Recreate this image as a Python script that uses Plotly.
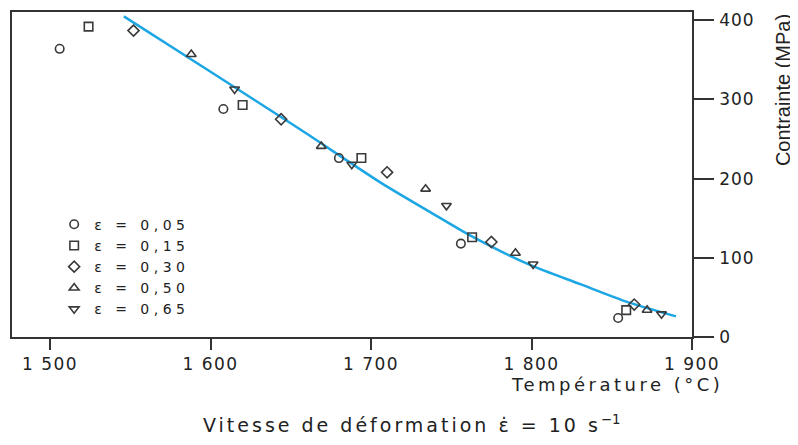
import plotly.graph_objects as go

# Data
labels = ["ε = 0,05", "ε = 0,15", "ε = 0,30", "ε = 0,50", "ε = 0,65"]
symbols = ["circle-open", "square-open", "diamond-open", "triangle-up-open", "triangle-down-open"]

temp_005 = [1506, 1608, 1680, 1756, 1854]
stress_005 = [364, 288, 226, 118, 24]
temp_015 = [1524, 1620, 1694, 1763, 1859]
stress_015 = [392, 293, 226, 126, 34]
temp_030 = [1552, 1644, 1710, 1775, 1864]
stress_030 = [387, 275, 208, 120, 41]
temp_050 = [1588, 1669, 1734, 1790, 1872]
stress_050 = [357, 241, 187, 106, 34]
temp_065 = [1615, 1688, 1747, 1801, 1881]
stress_065 = [313, 218, 166, 92, 29]

curve_temp = [1546, 1600, 1656, 1706, 1740, 1762, 1799, 1830, 1860, 1890]
curve_stress = [405, 335, 262, 195, 154, 128, 91, 67, 44, 26]

x_tickvals = [1500, 1600, 1700, 1800, 1900]
x_ticktext = ["1 500", "1 600", "1 700", "1 800", "1 900"]
y_tickvals = [0, 100, 200, 300, 400]
y_ticktext = ["0", "100", "200", "300", "400"]

series_x = [temp_005, temp_015, temp_030, temp_050, temp_065]
series_y = [stress_005, stress_015, stress_030, stress_050, stress_065]


def wide(txt, px):
    return '<span style="letter-spacing:%gpx">%s</span>' % (px, txt)


fig = go.Figure()
fig.add_trace(go.Scatter(x=curve_temp, y=curve_stress, mode="lines",
                         line=dict(color="#1ca6e3", width=2.5, shape="spline", smoothing=0.7),
                         showlegend=False, hoverinfo="skip"))
for xs, ys, lab, sym in zip(series_x, series_y, labels, symbols):
    fig.add_trace(go.Scatter(x=xs, y=ys, mode="markers", name=wide(lab, 4.5),
                             marker=dict(symbol=sym, size=8.5, color="#3a3a3a",
                                         line=dict(width=1.6, color="#3a3a3a"))))

font_main = "DejaVu Sans"
# the page body has an 8px default margin: the figure is shrunk and its
# left/top margins reduced so the plot area lands where the reference has it
fig.update_layout(
    width=790, height=437,
    margin=dict(l=4, r=106, t=2, b=108),
    paper_bgcolor="white", plot_bgcolor="white",
    font=dict(family=font_main, color="#222", size=17),
    showlegend=True,
    legend=dict(x=0.062, y=0.395, xanchor="left", yanchor="top",
                font=dict(size=14, family=font_main, color="#222"),
                bgcolor="rgba(0,0,0,0)", borderwidth=0),
    xaxis=dict(range=[1476.3, 1900], tickvals=x_tickvals,
               ticktext=[wide(t, 1.5) for t in x_ticktext],
               showgrid=False, zeroline=False, showline=True, mirror=True,
               linecolor="#333", linewidth=1.5, ticks="outside", ticklen=11,
               tickwidth=1.5, tickcolor="#333",
               tickfont=dict(size=17, family=font_main)),
    yaxis=dict(range=[0, 410.5], tickvals=y_tickvals,
               ticktext=[wide(t, 1) for t in y_ticktext], side="right",
               showgrid=False, zeroline=False, showline=True, mirror=True,
               linecolor="#333", linewidth=1.5, ticks="outside", ticklen=20,
               tickwidth=1.5, tickcolor="#333", ticklabelstandoff=2,
               tickfont=dict(size=17, family=font_main)),
    annotations=[
        dict(text=wide("Température (°C)", 3.5), xref="paper", yref="paper", x=1.0485, y=-0.147,
             xanchor="right", yanchor="middle", showarrow=False,
             font=dict(size=18, family=font_main, color="#222")),
        dict(text="Contrainte (MPa)", xref="paper", yref="paper", x=1.134, y=0.76,
             xanchor="center", yanchor="middle", textangle=-90, showarrow=False,
             font=dict(size=20, family="Liberation Sans", color="#222")),
        dict(text=wide("Vitesse de déformation ε̇ = 10 s", 3) + "<sup>−1</sup>",
             xref="paper", yref="paper",
             x=0.587, y=-0.268, xanchor="center", yanchor="middle", showarrow=False,
             font=dict(size=19, family=font_main, color="#222")),
    ],
)

fig.write_html("out.html")
